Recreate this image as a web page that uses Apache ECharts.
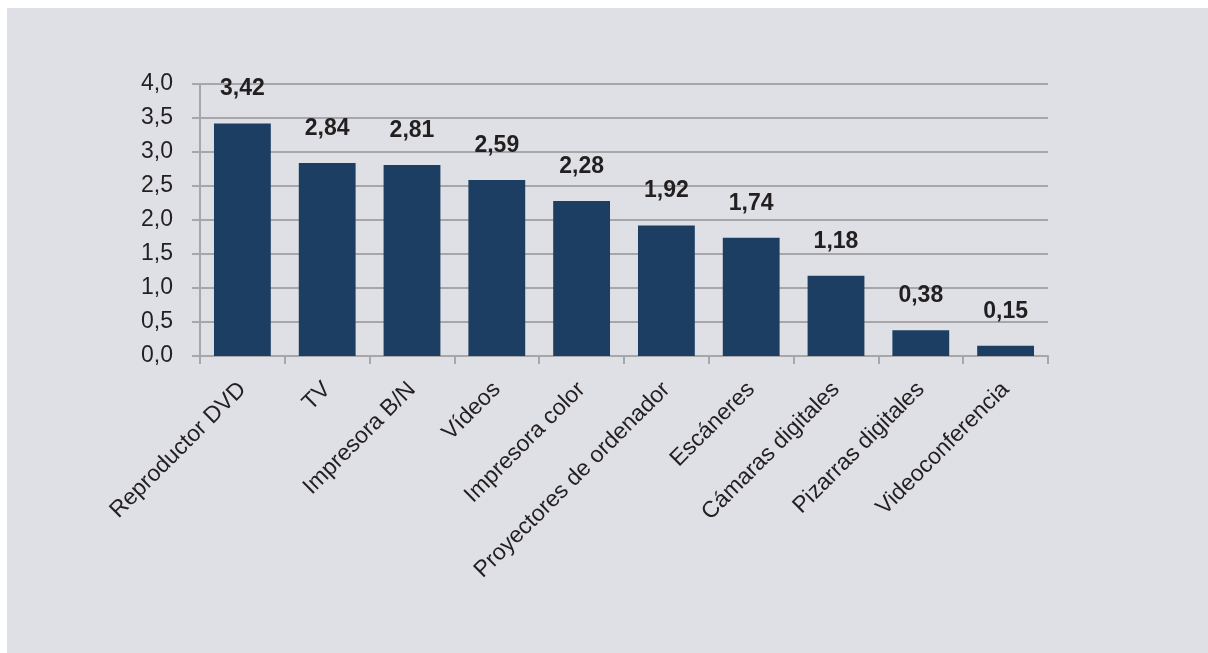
<!DOCTYPE html>
<html>
<head>
<meta charset="utf-8">
<script src="https://cdn.jsdelivr.net/npm/echarts@6/dist/echarts.min.js"></script>
<style>
  html, body { margin: 0; padding: 0; background: #ffffff; }
  #chart { position: absolute; left: 7px; top: 8px; width: 1201px; height: 645px; background: #dfe0e5; }
</style>
</head>
<body>
<div id="chart"></div>
<script>
const categories = ['Reproductor DVD', 'TV', 'Impresora B/N', 'Vídeos', 'Impresora color', 'Proyectores de ordenador', 'Escáneres', 'Cámaras digitales', 'Pizarras digitales', 'Videoconferencia'];
const values = [3.42, 2.84, 2.81, 2.59, 2.28, 1.92, 1.74, 1.18, 0.38, 0.15];
const yTicks = { min: 0, max: 4, interval: 0.5 };

const fontFam = '"Liberation Sans", Arial, Helvetica, sans-serif';
const txt = '#231f20';
const gridCol = '#a7a7aa';

const chart = echarts.init(document.getElementById('chart'), null, { renderer: 'canvas' });
chart.setOption({
  backgroundColor: 'transparent',
  animation: false,
  grid: { left: 193, top: 76, right: 160, bottom: 297, containLabel: false },
  xAxis: {
    type: 'category',
    data: categories,
    boundaryGap: true,
    axisLine: { show: true, lineStyle: { color: gridCol, width: 2 } },
    axisTick: { show: true, alignWithLabel: false, length: 8, lineStyle: { color: gridCol, width: 2 } },
    axisLabel: {
      rotate: 45, interval: 0, margin: 30,
      fontFamily: fontFam, fontSize: 23, color: txt
    },
    splitLine: { show: false }
  },
  yAxis: {
    type: 'value',
    min: yTicks.min, max: yTicks.max, interval: yTicks.interval,
    axisLine: { show: true, lineStyle: { color: gridCol, width: 2 } },
    axisTick: { show: true, inside: false, length: 8, lineStyle: { color: gridCol, width: 2 } },
    axisLabel: {
      margin: 27,
      fontFamily: fontFam, fontSize: 23, color: txt,
      formatter: v => v.toFixed(1).replace('.', ',')
    },
    splitLine: { show: true, lineStyle: { color: gridCol, width: 2 } }
  },
  series: [{
    type: 'bar',
    data: values,
    barWidth: '67%',
    itemStyle: { color: '#1d3e63' },
    label: {
      show: true, position: 'top', distance: 23,
      fontFamily: fontFam, fontSize: 23, fontWeight: 'bold', color: txt,
      formatter: p => p.value.toFixed(2).replace('.', ',')
    }
  }]
});
</script>
</body>
</html>
